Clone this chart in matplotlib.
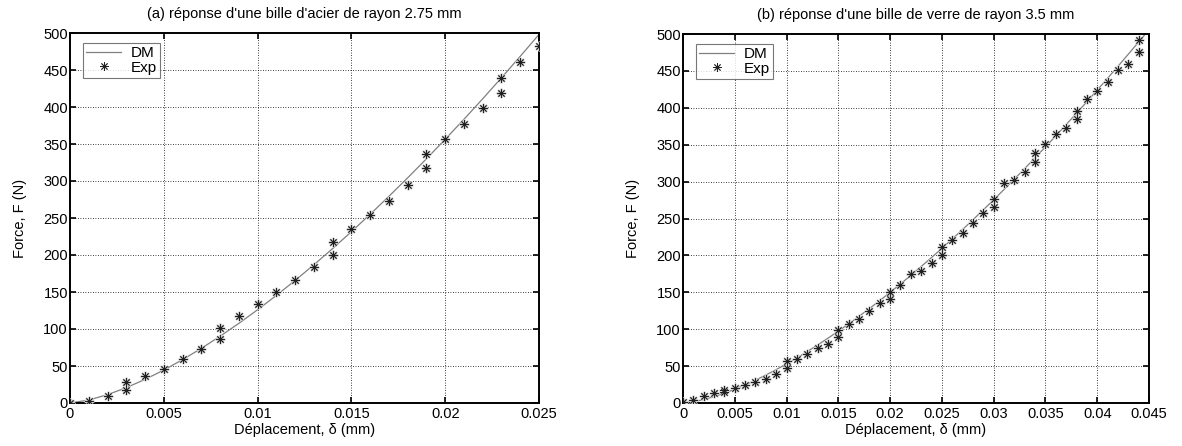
import numpy as np
import matplotlib
matplotlib.use("Agg")
import matplotlib.pyplot as plt

plt.rcParams['font.family'] = ['Liberation Sans', 'DejaVu Sans']

# (a) steel ball, radius 2.75 mm
steel_model_disp = [0.000, 0.001, 0.002, 0.003, 0.004, 0.005, 0.006, 0.007, 0.008,
                    0.009, 0.010, 0.011, 0.012, 0.013, 0.014, 0.015, 0.016, 0.017,
                    0.018, 0.019, 0.020, 0.021, 0.022, 0.023, 0.024, 0.025]
steel_model_force = [0.0, 4.0, 11.3, 20.7, 31.9, 44.5, 58.6, 73.8, 90.2,
                     107.6, 126.0, 145.4, 165.6, 186.8, 208.7, 231.5, 255.0, 279.3,
                     304.3, 330.0, 356.4, 383.4, 411.1, 439.5, 468.5, 498.0]
steel_exp_disp = [0.000, 0.001, 0.002, 0.003, 0.003, 0.004, 0.005, 0.006, 0.007,
                  0.008, 0.008, 0.009, 0.010, 0.011, 0.012, 0.013, 0.014, 0.014,
                  0.015, 0.016, 0.017, 0.018, 0.019, 0.019, 0.020, 0.021, 0.022,
                  0.023, 0.023, 0.024, 0.025]
steel_exp_force = [0, 3, 9, 28, 18, 37, 46, 60, 73,
                   102, 87, 118, 134, 150, 166, 184, 218, 200,
                   235, 254, 273, 295, 336, 317, 357, 377, 398,
                   439, 419, 461, 482]

# (b) glass ball, radius 3.5 mm
glass_model_disp = [0.000, 0.001, 0.002, 0.003, 0.004, 0.005, 0.006, 0.007, 0.008,
                    0.009, 0.010, 0.011, 0.012, 0.013, 0.014, 0.015, 0.016, 0.017,
                    0.018, 0.019, 0.020, 0.021, 0.022, 0.023, 0.024, 0.025, 0.026,
                    0.027, 0.028, 0.029, 0.030, 0.031, 0.032, 0.033, 0.034, 0.035,
                    0.036, 0.037, 0.038, 0.039, 0.040, 0.041, 0.042, 0.043, 0.044,
                    0.045]
glass_model_force = [0.0, 1.7, 4.7, 8.7, 13.4, 18.7, 24.6, 31.0, 37.9,
                     45.3, 53.0, 61.1, 69.7, 78.6, 87.8, 97.4, 107.3, 117.5,
                     128.0, 138.8, 149.9, 161.3, 172.9, 184.9, 197.1, 209.5, 222.2,
                     235.1, 248.3, 261.7, 275.4, 289.3, 303.4, 317.7, 332.3, 347.0,
                     362.0, 377.2, 392.6, 408.2, 424.0, 440.0, 456.2, 472.6, 489.2,
                     505.9]
glass_exp_disp = [0.000, 0.001, 0.002, 0.003, 0.004, 0.004, 0.005, 0.006, 0.007,
                  0.008, 0.009, 0.010, 0.010, 0.011, 0.012, 0.013, 0.014, 0.015,
                  0.015, 0.016, 0.017, 0.018, 0.019, 0.020, 0.020, 0.021, 0.022,
                  0.023, 0.024, 0.025, 0.025, 0.026, 0.027, 0.028, 0.029, 0.030,
                  0.030, 0.031, 0.032, 0.033, 0.034, 0.034, 0.035, 0.036, 0.037,
                  0.038, 0.038, 0.039, 0.040, 0.041, 0.042, 0.043, 0.044, 0.044]
glass_exp_force = [2, 4, 10, 13, 18, 15, 21, 24, 29,
                   33, 39, 57, 47, 60, 66, 74, 80, 99,
                   90, 107, 114, 125, 136, 151, 141, 160, 175,
                   179, 190, 211, 200, 221, 231, 244, 257, 277,
                   265, 298, 302, 313, 339, 327, 351, 364, 373,
                   396, 385, 412, 423, 435, 451, 460, 492, 476]

panels = [
    dict(rect=[70 / 1182, 43 / 446, 469 / 1182, 370 / 446],
         title="(a) réponse d'une bille d'acier de rayon 2.75 mm",
         md=steel_model_disp, mf=steel_model_force,
         ed=steel_exp_disp, ef=steel_exp_force,
         xmax=0.025, xticks=[0, 0.005, 0.01, 0.015, 0.02, 0.025],
         xlabels=["0", "0.005", "0.01", "0.015", "0.02", "0.025"]),
    dict(rect=[683 / 1182, 43 / 446, 466 / 1182, 369 / 446],
         title="(b) réponse d'une bille de verre de rayon 3.5 mm",
         md=glass_model_disp, mf=glass_model_force,
         ed=glass_exp_disp, ef=glass_exp_force,
         xmax=0.045, xticks=[0, 0.005, 0.01, 0.015, 0.02, 0.025, 0.03, 0.035, 0.04, 0.045],
         xlabels=["0", "0.005", "0.01", "0.015", "0.02", "0.025", "0.03", "0.035", "0.04", "0.045"]),
]

ASTERISK = (8, 2, 0)
FS = 10.5

fig = plt.figure(figsize=(11.82, 4.46), dpi=100)

for p in panels:
    ax = fig.add_axes(p["rect"])
    ax.plot(p["md"], p["mf"], color="#808080", lw=0.9, label="DM", zorder=2)
    # soft grey halo under each asterisk
    ax.plot(p["ed"], p["ef"], ls="none", marker=ASTERISK, ms=7, mew=1.4,
            mec="#d0d0d0", zorder=3)
    ax.plot(p["ed"], p["ef"], ls="none", marker=ASTERISK, ms=6, mew=0.6,
            mec="#202020", label="Exp", zorder=4)
    ax.set_xlim(0, p["xmax"])
    ax.set_ylim(0, 500)
    ax.set_xticks(p["xticks"])
    ax.set_xticklabels(p["xlabels"])
    ax.set_yticks(np.arange(0, 501, 50))
    ax.grid(True, color="black", ls=(0, (1, 2)), lw=0.6)
    ax.tick_params(direction="in", top=True, right=True, length=4, width=1.2,
                   labelsize=FS, pad=1.5, colors="black")
    ax.tick_params(axis="x", pad=3)
    for s in ax.spines.values():
        s.set_linewidth(1.4)
        s.set_color("black")
    ax.set_title(p["title"], fontsize=FS, pad=11)
    ax.set_xlabel("Déplacement, δ (mm)", fontsize=FS, labelpad=1)
    ax.set_ylabel("Force, F (N)", fontsize=FS, labelpad=12)
    leg = ax.legend(loc="upper left", bbox_to_anchor=(0.028, 0.973), fontsize=11,
                    frameon=True, fancybox=False, edgecolor="#555555",
                    borderpad=0.2, handlelength=2.3, handletextpad=0.6,
                    labelspacing=0.05, borderaxespad=0)
    leg.get_frame().set_linewidth(0.8)

fig.savefig("out.png", dpi=100)
